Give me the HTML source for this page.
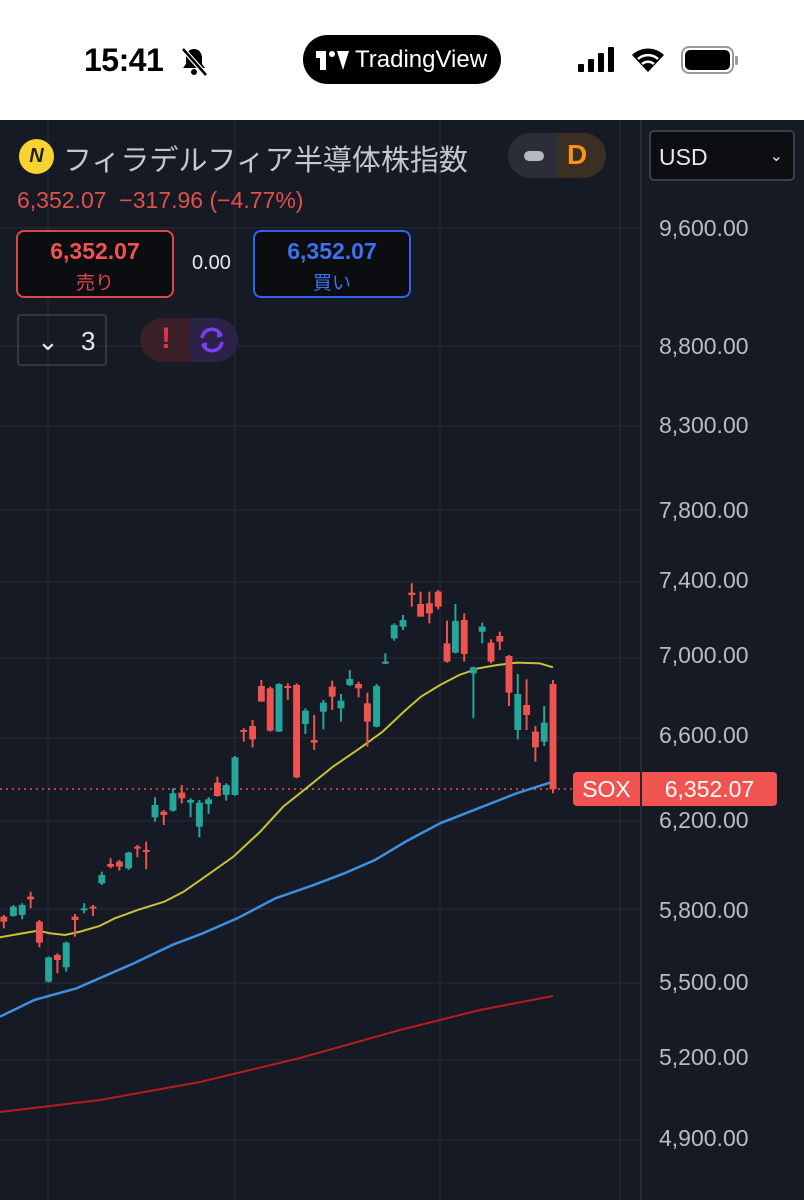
<!DOCTYPE html>
<html><head><meta charset="utf-8">
<style>
*{margin:0;padding:0;box-sizing:border-box}
body{width:804px;height:1200px;overflow:hidden;background:#161a25;font-family:"Liberation Sans","Noto Sans CJK JP",sans-serif;position:relative}
.abs{position:absolute}
.lbl{position:absolute;left:659px;font-size:23px;color:#b8bcc6;line-height:1}
</style></head><body>
<div class="abs" style="left:0;top:0;width:804px;height:120px;background:#fff"></div>
<div class="abs" style="left:84px;top:42px;font-size:32px;font-weight:bold;color:#000;letter-spacing:-0.5px">15:41</div>
<svg class="abs" style="left:178px;top:45px" width="32" height="32" viewBox="0 0 32 32"><path d="M16 4c-5 0-8 4-8 9v6l-3 4h22l-3-4v-6c0-5-3-9-8-9z" fill="#000"/><circle cx="16" cy="27" r="3" fill="#000"/><line x1="5" y1="4" x2="28" y2="30" stroke="#fff" stroke-width="5"/><line x1="5" y1="4" x2="28" y2="30" stroke="#000" stroke-width="2.5"/></svg>
<div class="abs" style="left:303px;top:35px;width:198px;height:49px;background:#000;border-radius:25px"></div>
<div class="abs" style="left:316px;top:51px;width:10px;height:7px;background:#fff"></div>
<div class="abs" style="left:320px;top:51px;width:6px;height:19px;background:#fff"></div>
<div class="abs" style="left:329px;top:51px;width:6px;height:6px;background:#fff;border-radius:50%"></div>
<div class="abs" style="left:337px;top:51px;width:0;height:0;border-left:6px solid transparent;border-right:6px solid transparent;border-top:19px solid #fff"></div>
<div class="abs" style="left:355px;top:46px;font-size:24px;color:#fff">TradingView</div>
<div class="abs" style="left:578px;top:64px;width:6px;height:8px;background:#000;border-radius:1px"></div>
<div class="abs" style="left:588px;top:59px;width:6px;height:13px;background:#000;border-radius:1px"></div>
<div class="abs" style="left:598px;top:53px;width:6px;height:19px;background:#000;border-radius:1px"></div>
<div class="abs" style="left:608px;top:47px;width:6px;height:25px;background:#000;border-radius:1px"></div>
<svg class="abs" style="left:630px;top:46px" width="36" height="28" viewBox="0 0 36 28"><path d="M18 26 L2 9 A23 23 0 0 1 34 9 Z" fill="#000"/><path d="M8 13 A15 15 0 0 1 28 13" stroke="#fff" stroke-width="2.5" fill="none"/><path d="M12 18 A9 9 0 0 1 24 18" stroke="#fff" stroke-width="2.5" fill="none"/></svg>
<div class="abs" style="left:681px;top:46px;width:53px;height:28px;border:2.5px solid #999;border-radius:8px"></div>
<div class="abs" style="left:685px;top:50px;width:45px;height:20px;background:#000;border-radius:5px"></div>
<div class="abs" style="left:735px;top:56px;width:3px;height:9px;background:#999;border-radius:2px"></div>

<svg class="abs" style="left:0;top:120px" width="804" height="1080">
<g stroke="#222633" stroke-width="1.5">
<line x1="48" y1="0" x2="48" y2="1080"/><line x1="235" y1="0" x2="235" y2="1080"/><line x1="440" y1="0" x2="440" y2="1080"/><line x1="620" y1="0" x2="620" y2="1080"/>
<line x1="0" y1="108" x2="641" y2="108"/><line x1="0" y1="226" x2="641" y2="226"/><line x1="0" y1="306" x2="641" y2="306"/><line x1="0" y1="390" x2="641" y2="390"/><line x1="0" y1="462" x2="641" y2="462"/><line x1="0" y1="538" x2="641" y2="538"/><line x1="0" y1="618" x2="641" y2="618"/><line x1="0" y1="701" x2="641" y2="701"/><line x1="0" y1="789" x2="641" y2="789"/><line x1="0" y1="863" x2="641" y2="863"/><line x1="0" y1="940" x2="641" y2="940"/><line x1="0" y1="1020" x2="641" y2="1020"/>
</g>
<line x1="641" y1="0" x2="641" y2="1080" stroke="#2a2e39" stroke-width="1.5"/>
</svg>

<svg class="abs" style="left:0;top:0" width="804" height="1200">
<line x1="0" y1="789" x2="573" y2="789" stroke="#f05350" stroke-width="1.5" stroke-dasharray="2,4"/>
<polyline fill="none" stroke="#b71c1c" stroke-width="2" points="0,1112 100,1100 200,1082 300,1058 400,1030 480,1010 553,996"/>
<g transform="translate(0,560) scale(0.3827,0.3333)">
<polyline vector-effect="non-scaling-stroke" fill="none" stroke="#c9c235" stroke-width="2" points="-100,1132 0,1132 60,1120 100,1112 130,1120 170,1125 210,1115 260,1098 300,1075 360,1050 430,1025 480,995 530,955 610,890 680,815 740,740 800,685 870,620 940,565 1000,515 1060,450 1100,410 1150,375 1200,345 1250,325 1300,315 1350,308 1410,310 1445,322"/>
<polyline vector-effect="non-scaling-stroke" fill="none" stroke="#3d8fe0" stroke-width="2.5" points="0,1370 90,1320 200,1285 280,1245 350,1210 450,1155 530,1120 620,1075 720,1015 820,975 900,940 980,900 1060,845 1150,790 1250,745 1350,700 1445,665"/>
</g>
</svg>
<svg class="abs" style="left:0;top:0" width="804" height="1200">
<g transform="translate(0,560) scale(0.3827,0.3333)" id="cs"></g>
</svg>
<script>
var d=[[10,1070,1085,1065,1105,0],[35,1040,1068,1035,1070,1],[58,1035,1065,1030,1078,1],[80,1010,1018,995,1045,0],[103,1085,1148,1080,1162,0],[127,1192,1265,1190,1268,1],[150,1185,1200,1180,1240,0],[173,1148,1222,1145,1235,1],[196,1070,1080,1062,1130,0],[220,1045,1050,1030,1060,1],[243,1040,1045,1035,1068,0],[266,945,970,935,975,1],[289,912,920,895,925,0],[312,905,920,900,932,0],[336,878,925,875,930,1],[359,860,865,855,892,0],[382,870,875,845,928,0],[405,735,772,712,785,1],[428,755,765,750,795,0],[452,700,752,685,755,1],[475,698,715,675,730,0],[498,720,728,715,772,1],[521,728,800,720,832,1],[545,718,732,712,762,1],[568,668,708,650,710,0],[591,675,705,670,722,1],[614,592,705,588,708,1],[637,510,515,505,545,0],[660,498,538,480,562,0],[683,378,425,360,425,0],[706,385,512,380,515,0],[729,372,515,370,515,1],[752,378,382,370,420,0],[775,375,652,370,655,0],[798,452,492,445,522,1],[821,540,548,465,570,0],[845,428,455,420,508,1],[868,380,410,362,450,0],[891,422,445,402,485,1],[914,357,375,330,378,1],[937,372,385,365,412,0],[960,430,485,398,560,0],[984,378,500,372,502,1],[1007,305,310,280,312,1],[1030,195,235,190,242,1],[1053,180,200,165,210,1],[1076,98,105,70,140,0],[1099,132,170,95,170,0],[1122,130,160,95,190,0],[1145,95,140,90,148,0],[1168,250,305,182,308,0],[1190,183,278,132,280,1],[1213,180,282,160,305,0],[1237,322,340,320,475,1],[1260,200,215,188,250,1],[1283,248,305,238,310,0],[1306,228,245,215,270,0],[1330,288,398,285,438,0],[1353,402,510,342,538,1],[1376,435,465,358,510,0],[1399,515,562,498,605,0],[1422,488,545,438,558,1],[1445,372,688,360,700,0]];
var s='';d.forEach(function(c){var col=c[5]?'#26a69a':'#ef5350';
s+='<line vector-effect="non-scaling-stroke" x1="'+c[0]+'" x2="'+c[0]+'" y1="'+c[3]+'" y2="'+c[4]+'" stroke="'+col+'" stroke-width="2"/>';
s+='<rect x="'+(c[0]-9)+'" y="'+c[1]+'" width="18" height="'+Math.max(6,c[2]-c[1])+'" fill="'+col+'"/>';});
document.getElementById('cs').innerHTML=s;
</script>

<div class="abs" style="left:573px;top:772px;width:67px;height:34px;background:#f05350;border-radius:4px 0 0 4px;color:#fff;font-size:23px;line-height:34px;text-align:center">SOX</div>
<div class="abs" style="left:642px;top:772px;width:135px;height:34px;background:#f05350;border-radius:0 4px 4px 0;color:#fff;font-size:23px;line-height:34px;text-align:center">6,352.07</div>

<div class="lbl" style="top:217px">9,600.00</div>
<div class="lbl" style="top:335px">8,800.00</div>
<div class="lbl" style="top:414px">8,300.00</div>
<div class="lbl" style="top:499px">7,800.00</div>
<div class="lbl" style="top:569px">7,400.00</div>
<div class="lbl" style="top:644px">7,000.00</div>
<div class="lbl" style="top:724px">6,600.00</div>
<div class="lbl" style="top:809px">6,200.00</div>
<div class="lbl" style="top:899px">5,800.00</div>
<div class="lbl" style="top:971px">5,500.00</div>
<div class="lbl" style="top:1046px">5,200.00</div>
<div class="lbl" style="top:1127px">4,900.00</div>

<div class="abs" style="left:19px;top:139px;width:35px;height:35px;border-radius:50%;background:#f7d330;color:#222;font-size:20px;font-weight:bold;font-style:italic;text-align:center;line-height:35px">N</div>
<div class="abs" style="left:63px;top:137px;font-size:29px;color:#c4c7cf;white-space:nowrap">フィラデルフィア半導体株指数</div>
<div class="abs" style="left:508px;top:133px;width:98px;height:45px;border-radius:23px;background:#2a2e39;overflow:hidden"><div style="position:absolute;left:50px;top:0;width:48px;height:45px;background:#3b2e22"></div><div style="position:absolute;left:16px;top:18px;width:20px;height:10px;border-radius:5px;background:#b5b8c0"></div><div style="position:absolute;left:59px;top:6px;font-size:28px;font-weight:bold;color:#f7931a">D</div></div>
<div class="abs" style="left:649px;top:130px;width:146px;height:51px;border:2px solid #3a3e48;border-radius:5px;background:#0d0e12;color:#e6e8ec;font-size:23px;padding:12px 0 0 8px">USD<span style="position:absolute;right:10px;top:14px;font-size:16px">&#8964;</span></div>
<div class="abs" style="left:17px;top:187px;font-size:23px;color:#e0514c;white-space:nowrap">6,352.07&nbsp; −317.96 (−4.77%)</div>
<div class="abs" style="left:16px;top:230px;width:158px;height:68px;border:2px solid #e0454a;border-radius:8px;background:#0c0d11;text-align:center"><div style="font-size:23px;font-weight:bold;color:#f05350;margin-top:6px">6,352.07</div><div style="font-size:19px;color:#e0454a;margin-top:3px">売り</div></div>
<div class="abs" style="left:192px;top:252px;font-size:20px;color:#e6e8ec">0.00</div>
<div class="abs" style="left:253px;top:230px;width:158px;height:68px;border:2px solid #2f63e8;border-radius:8px;background:#0c0d11;text-align:center"><div style="font-size:23px;font-weight:bold;color:#3b72f0;margin-top:6px">6,352.07</div><div style="font-size:19px;color:#3b72f0;margin-top:3px">買い</div></div>
<div class="abs" style="left:17px;top:314px;width:90px;height:52px;border:2px solid #34383f;border-radius:4px;color:#e6e8ec;font-size:26px;padding:10px 0 0 18px">&#8964;<span style="position:absolute;left:62px;top:10px">3</span></div>
<div class="abs" style="left:140px;top:318px;width:98px;height:44px;border-radius:22px;background:#3a1f26;overflow:hidden"><div style="position:absolute;left:50px;top:0;width:48px;height:44px;background:#2c2248"></div><div style="position:absolute;left:21px;top:4px;font-size:30px;font-weight:bold;color:#e0344a">!</div><svg style="position:absolute;left:57px;top:8px" width="30" height="28" viewBox="0 0 30 28"><path d="M5 12 A10 10 0 0 1 24 9" stroke="#7b3ff2" stroke-width="3.5" fill="none"/><path d="M25 16 A10 10 0 0 1 6 19" stroke="#7b3ff2" stroke-width="3.5" fill="none"/><path d="M20 5 L26 10 L20 12Z" fill="#7b3ff2"/><path d="M10 23 L4 18 L10 16Z" fill="#7b3ff2"/></svg></div>
</body></html>
